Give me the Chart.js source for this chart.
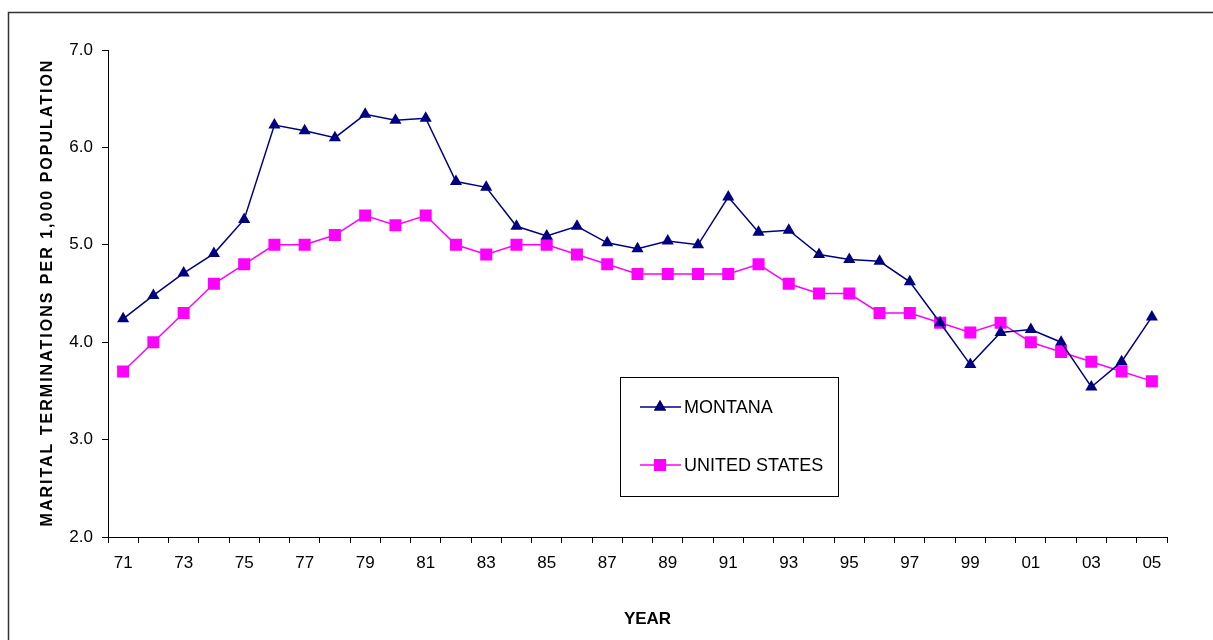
<!DOCTYPE html>
<html>
<head>
<meta charset="utf-8">
<script src="https://cdn.jsdelivr.net/npm/chart.js@4.4.1/dist/chart.umd.min.js"></script>
<style>
  html, body { margin: 0; padding: 0; background: #fff; }
  #wrap { width: 1213px; height: 640px; position: relative; }
</style>
</head>
<body>
<div id="wrap"><canvas id="divorceChart"></canvas></div>
<script>
const years = ['71','72','73','74','75','76','77','78','79','80','81','82','83','84','85','86','87','88',
               '89','90','91','92','93','94','95','96','97','98','99','00','01','02','03','04','05'];

const montana = [4.24, 4.48, 4.71, 4.91, 5.26, 6.23, 6.17, 6.10, 6.34, 6.28, 6.30, 5.65, 5.59, 5.19, 5.09, 5.19, 5.02, 4.96,
                 5.04, 5.00, 5.49, 5.13, 5.15, 4.90, 4.85, 4.83, 4.62, 4.20, 3.77, 4.10, 4.13, 4.00, 3.54, 3.80, 4.26];

const unitedStates = [3.7, 4.0, 4.3, 4.6, 4.8, 5.0, 5.0, 5.1, 5.3, 5.2, 5.3, 5.0, 4.9, 5.0, 5.0, 4.9, 4.8, 4.7,
                      4.7, 4.7, 4.7, 4.8, 4.6, 4.5, 4.5, 4.3, 4.3, 4.2, 4.1, 4.2, 4.0, 3.9, 3.8, 3.7, 3.6];

const yTicks = [2.0, 3.0, 4.0, 5.0, 6.0, 7.0];
const yTitle = 'MARITAL TERMINATIONS PER 1,000 POPULATION';
const xTitle = 'YEAR';

const NAVY = '#000080';
const MAGENTA = '#ff00ff';
const FONT = "'Liberation Sans', Arial, sans-serif";

// frame round the whole picture, only top and left edges are in view
const framePlugin = {
    id: 'frame',
    beforeDraw(chart) {
        const c = chart.ctx;
        c.save();
        c.strokeStyle = '#333';
        c.lineWidth = 1.5;
        c.strokeRect(8.5, 12.5, 1300, 700);
        c.restore();
    }
};

// axis titles drawn by hand: the y one is spaced out wider than the font,
// and YEAR sits a little right of the plot centre
const titlesPlugin = {
    id: 'titles',
    afterDraw(chart) {
        const c = chart.ctx;
        const area = chart.chartArea;
        c.save();
        c.fillStyle = '#000';
        c.textAlign = 'center';
        c.textBaseline = 'middle';

        c.font = 'bold 17px ' + FONT;
        c.fillText(xTitle, (area.left + area.right) / 2 + 10, 619);

        c.translate(48, (area.top + area.bottom) / 2 - 1);
        c.rotate(-Math.PI / 2);
        c.font = 'bold 16px ' + FONT;
        c.letterSpacing = '2px';
        c.fillText(yTitle, 0, 0);
        c.restore();
    }
};

// boxed legend sitting inside the plot
const boxLegend = {
    id: 'boxLegend',
    afterDraw(chart) {
        const c = chart.ctx;
        c.save();
        c.strokeStyle = '#000';
        c.lineWidth = 1;
        c.strokeRect(620.5, 377.5, 218, 119);
        const rows = [407, 465];
        chart.data.datasets.forEach((ds, i) => {
            const y = rows[i];
            c.strokeStyle = ds.borderColor;
            c.lineWidth = 1.5;
            c.beginPath();
            c.moveTo(640, y);
            c.lineTo(681, y);
            c.stroke();
            Chart.helpers.drawPoint(c, {
                pointStyle: ds.pointStyle,
                radius: ds.pointRadius,
                borderWidth: 0
            }, 660, y);
            c.fillStyle = ds.backgroundColor;
            c.fill();
            c.fillStyle = '#000';
            c.font = '18px ' + FONT;
            c.textBaseline = 'middle';
            c.textAlign = 'left';
            c.fillText(ds.label, 684, y + 1);
        });
        c.restore();
    }
};

const ctx = document.getElementById('divorceChart').getContext('2d');

new Chart(ctx, {
    type: 'line',
    data: {
        labels: years,
        datasets: [{
            label: 'MONTANA',
            data: montana,
            borderColor: NAVY,
            backgroundColor: NAVY,
            borderWidth: 1.5,
            pointStyle: 'triangle',
            pointRadius: 7,
            pointBorderWidth: 0,
            pointBackgroundColor: NAVY,
            tension: 0,
        }, {
            label: 'UNITED STATES',
            data: unitedStates,
            borderColor: MAGENTA,
            backgroundColor: MAGENTA,
            borderWidth: 1.5,
            pointStyle: 'rect',
            pointRadius: 8.5,
            pointBorderWidth: 0,
            pointBackgroundColor: MAGENTA,
            tension: 0,
        }]
    },
    options: {
        responsive: true,
        maintainAspectRatio: false,
        animation: false,
        events: [],
        layout: { padding: { left: 0, right: 46, top: 50, bottom: 0 } },
        plugins: {
            legend: { display: false },
            tooltip: { enabled: false },
        },
        scales: {
            x: {
                type: 'category',
                offset: true,
                afterFit: (s) => { s.height = 103; },
                grid: {
                    offset: true,
                    drawOnChartArea: false,
                    drawTicks: true,
                    tickLength: 6,
                    color: '#000',
                    lineWidth: 1,
                },
                border: { display: true, color: '#000', width: 1 },
                ticks: {
                    autoSkip: false,
                    maxRotation: 0,
                    minRotation: 0,
                    padding: 10,
                    color: '#000',
                    font: { size: 17, family: FONT },
                    callback: (val, i) => (i % 2 === 0 ? years[i] : ''),
                },
                title: { display: false }
            },
            y: {
                min: 2,
                max: 7,
                afterFit: (s) => { s.width = 108; },
                afterBuildTicks: (s) => { s.ticks = yTicks.map(v => ({ value: v })); },
                grid: {
                    drawOnChartArea: false,
                    drawTicks: true,
                    tickLength: 6,
                    color: '#000',
                    lineWidth: 1,
                },
                border: { display: true, color: '#000', width: 1 },
                ticks: {
                    padding: 9,
                    color: '#000',
                    font: { size: 17, family: FONT },
                    callback: (val) => Number(val).toFixed(1),
                },
                title: { display: false }
            }
        }
    },
    plugins: [framePlugin, titlesPlugin, boxLegend]
});
</script>
</body>
</html>
